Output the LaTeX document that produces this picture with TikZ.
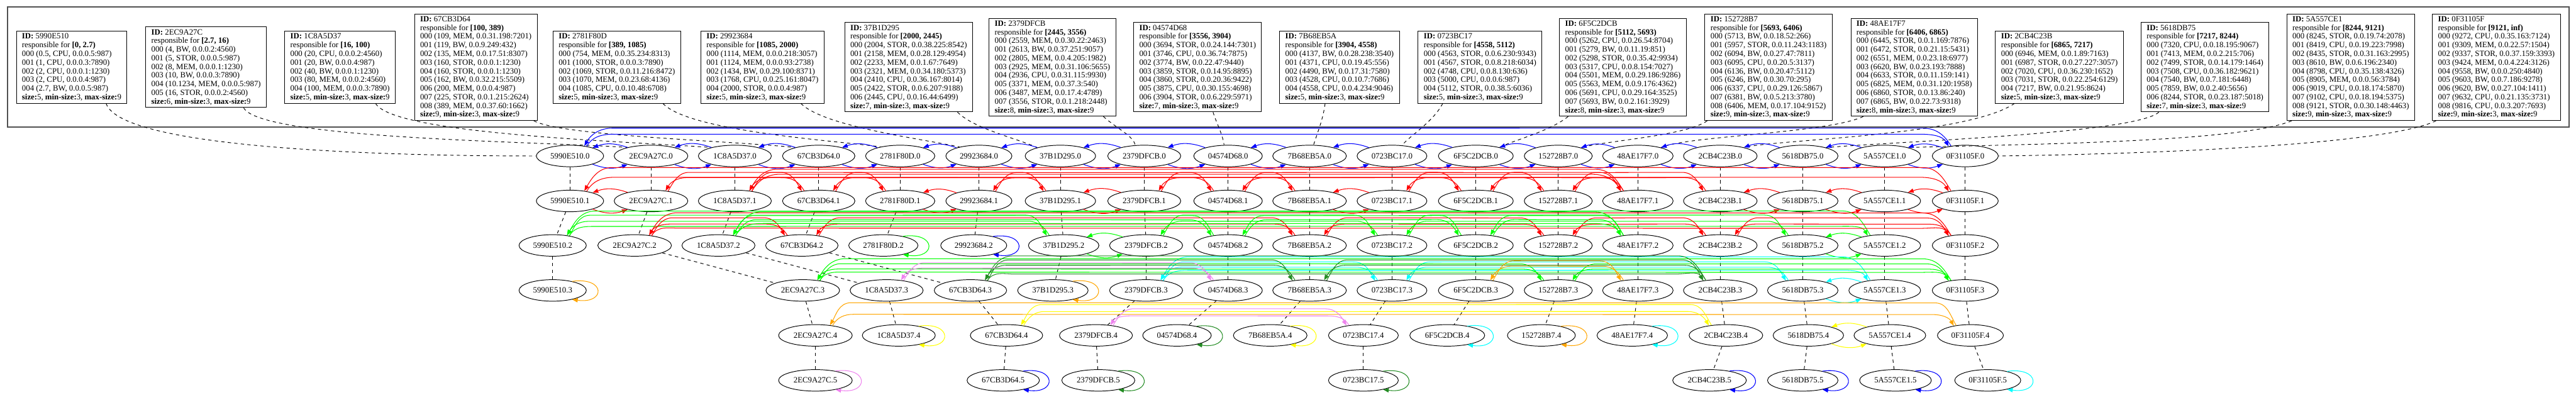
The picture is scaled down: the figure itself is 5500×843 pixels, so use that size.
\documentclass[tikz,border=0pt]{standalone}
\usepackage{fontspec}
\setmainfont{Liberation Serif}
\usetikzlibrary{arrows.meta,calc,shapes.geometric}
\definecolor{cblue}{RGB}{0,0,255}
\definecolor{cred}{RGB}{255,0,0}
\definecolor{cgreen}{RGB}{0,255,0}
\definecolor{cdkgreen}{RGB}{34,139,34}
\definecolor{ccyan}{RGB}{0,255,255}
\definecolor{corange}{RGB}{255,165,0}
\definecolor{cyellow}{RGB}{255,255,0}
\definecolor{cviolet}{RGB}{238,130,238}
\definecolor{framecol}{RGB}{80,80,80}
\tikzset{
  el/.style={draw,ellipse,line width=1.3pt,inner xsep=9pt,inner ysep=0pt,minimum height=46pt,font=\fontsize{17.2}{20}\selectfont},
  infobox/.style={draw,line width=1.3pt,align=left,inner xsep=12pt,inner ysep=5pt,font=\fontsize{17.2}{18.5}\selectfont},
  vd/.style={dash pattern=on 7pt off 7pt,line width=1.3pt},
  bd/.style={dash pattern=on 7pt off 7pt,line width=1.3pt},
  lk/.style={draw=#1,line width=1.4pt,-{Triangle[length=12pt,width=9pt]}}
}
\newcommand\infotext[4]{\textbf{ID:} #1\\responsible for \textbf{[#2)}\\#3\textbf{size:}#4, \textbf{min-size:}3, \textbf{max-size:}9}
\newcommand\lngR[5]{%
  \path (#3) ++(-#5,#4) coordinate (tq);
  \draw[lk=#1] (#2) to[out=60,in=180] ++(#5,#4) -- (tq) to[out=0,in=120] (#3);}
\newcommand\lngL[5]{%
  \path (#3) ++(#5,#4) coordinate (tq);
  \draw[lk=#1] (#2) to[out=120,in=0] ++(-#5,#4) -- (tq) to[out=180,in=60] (#3);}
\newcommand\longpair[5]{\lngR{#1}{#2.30}{#3.150}{#4}{45}\lngL{#1}{#3.145}{#2.35}{#5}{45}}
\newcommand\shortpair[3]{\draw[lk=#1] (#3.160) to[bend right=20] (#2.20);
  \draw[lk=#1] (#2.340) to[bend right=20] (#3.200);}
\newcommand\selfloop[2]{\draw[lk=#1] (#2.25) .. controls +(72,10) and +(72,-10) .. (#2.335);}
\begin{document}
\begin{tikzpicture}[x=1pt,y=1pt]
\useasboundingbox (0,0) rectangle (5500,-843);
\draw[framecol,line width=2pt] (16,-15) rectangle (5485,-271);

% ---------- info boxes ----------
\node[infobox] (ba) at (153,-143.5) {\infotext{5990E510}{0, 2.7}{000 (0.5, CPU, 0.0.0.5:987)\\001 (1, CPU, 0.0.0.3:7890)\\002 (2, CPU, 0.0.0.1:1230)\\003 (2, CPU, 0.0.0.4:987)\\004 (2.7, BW, 0.0.0.5:987)\\}{5}};
\node[infobox] (bb) at (440,-143.5) {\infotext{2EC9A27C}{2.7, 16}{000 (4, BW, 0.0.0.2:4560)\\001 (5, STOR, 0.0.0.5:987)\\002 (8, MEM, 0.0.0.1:1230)\\003 (10, BW, 0.0.0.3:7890)\\004 (10.1234, MEM, 0.0.0.5:987)\\005 (16, STOR, 0.0.0.2:4560)\\}{6}};
\node[infobox] (bc) at (726,-143.5) {\infotext{1C8A5D37}{16, 100}{000 (20, CPU, 0.0.0.2:4560)\\001 (20, BW, 0.0.0.4:987)\\002 (40, BW, 0.0.0.1:1230)\\003 (80, MEM, 0.0.0.2:4560)\\004 (100, MEM, 0.0.0.3:7890)\\}{5}};
\node[infobox] (bd) at (1016,-143.5) {\infotext{67CB3D64}{100, 389}{000 (109, MEM, 0.0.31.198:7201)\\001 (119, BW, 0.0.9.249:432)\\002 (135, MEM, 0.0.17.51:8307)\\003 (160, STOR, 0.0.0.1:1230)\\004 (160, STOR, 0.0.0.1:1230)\\005 (162, BW, 0.0.32.215:5509)\\006 (200, MEM, 0.0.0.4:987)\\007 (225, STOR, 0.0.1.215:2624)\\008 (389, MEM, 0.0.37.60:1662)\\}{9}};
\node[infobox] (be) at (1317,-143.5) {\infotext{2781F80D}{389, 1085}{000 (754, MEM, 0.0.35.234:8313)\\001 (1000, STOR, 0.0.0.3:7890)\\002 (1069, STOR, 0.0.11.216:8472)\\003 (1070, MEM, 0.0.23.68:4136)\\004 (1085, CPU, 0.0.10.48:6708)\\}{5}};
\node[infobox] (bf) at (1628,-143.5) {\infotext{29923684}{1085, 2000}{000 (1114, MEM, 0.0.0.218:3057)\\001 (1124, MEM, 0.0.0.93:2738)\\002 (1434, BW, 0.0.29.100:8371)\\003 (1768, CPU, 0.0.25.161:8047)\\004 (2000, STOR, 0.0.0.4:987)\\}{5}};
\node[infobox] (bg) at (1940,-143.5) {\infotext{37B1D295}{2000, 2445}{000 (2004, STOR, 0.0.38.225:8542)\\001 (2158, MEM, 0.0.28.129:4954)\\002 (2233, MEM, 0.0.1.67:7649)\\003 (2321, MEM, 0.0.34.180:5373)\\004 (2410, CPU, 0.0.36.167:8014)\\005 (2422, STOR, 0.0.6.207:9188)\\006 (2445, CPU, 0.0.16.44:6499)\\}{7}};
\node[infobox] (bh) at (2247,-143.5) {\infotext{2379DFCB}{2445, 3556}{000 (2559, MEM, 0.0.30.22:2463)\\001 (2613, BW, 0.0.37.251:9057)\\002 (2805, MEM, 0.0.4.205:1982)\\003 (2925, MEM, 0.0.31.106:5655)\\004 (2936, CPU, 0.0.31.115:9930)\\005 (3371, MEM, 0.0.37.3:540)\\006 (3487, MEM, 0.0.17.4:4789)\\007 (3556, STOR, 0.0.1.218:2448)\\}{8}};
\node[infobox] (bi) at (2557,-143.5) {\infotext{04574D68}{3556, 3904}{000 (3694, STOR, 0.0.24.144:7301)\\001 (3746, CPU, 0.0.36.74:7875)\\002 (3774, BW, 0.0.22.47:9440)\\003 (3859, STOR, 0.0.14.95:8895)\\004 (3860, STOR, 0.0.20.36:9422)\\005 (3875, CPU, 0.0.30.155:4698)\\006 (3904, STOR, 0.0.6.229:5971)\\}{7}};
\node[infobox] (bj) at (2860,-143.5) {\infotext{7B68EB5A}{3904, 4558}{000 (4137, BW, 0.0.28.238:3540)\\001 (4371, CPU, 0.0.19.45:556)\\002 (4490, BW, 0.0.17.31:7580)\\003 (4528, CPU, 0.0.10.7:7686)\\004 (4558, CPU, 0.0.4.234:9046)\\}{5}};
\node[infobox] (bk) at (3160,-143.5) {\infotext{0723BC17}{4558, 5112}{000 (4563, STOR, 0.0.6.230:9343)\\001 (4567, STOR, 0.0.8.218:6034)\\002 (4748, CPU, 0.0.8.130:636)\\003 (5000, CPU, 0.0.0.6:987)\\004 (5112, STOR, 0.0.38.5:6036)\\}{5}};
\node[infobox] (bl) at (3465,-143.5) {\infotext{6F5C2DCB}{5112, 5693}{000 (5262, CPU, 0.0.26.54:8704)\\001 (5279, BW, 0.0.11.19:851)\\002 (5298, STOR, 0.0.35.42:9934)\\003 (5317, CPU, 0.0.8.154:7027)\\004 (5501, MEM, 0.0.29.186:9286)\\005 (5563, MEM, 0.0.9.176:4362)\\006 (5691, CPU, 0.0.29.164:3525)\\007 (5693, BW, 0.0.2.161:3929)\\}{8}};
\node[infobox] (bm) at (3776,-143.5) {\infotext{152728B7}{5693, 6406}{000 (5713, BW, 0.0.18.52:266)\\001 (5957, STOR, 0.0.11.243:1183)\\002 (6094, BW, 0.0.27.47:7811)\\003 (6095, CPU, 0.0.20.5:3137)\\004 (6136, BW, 0.0.20.47:5112)\\005 (6246, BW, 0.0.30.70:295)\\006 (6337, CPU, 0.0.29.126:5867)\\007 (6381, BW, 0.0.5.213:3780)\\008 (6406, MEM, 0.0.17.104:9152)\\}{9}};
\node[infobox] (bn) at (4087,-143.5) {\infotext{48AE17F7}{6406, 6865}{000 (6445, STOR, 0.0.1.169:7876)\\001 (6472, STOR, 0.0.21.15:5431)\\002 (6551, MEM, 0.0.23.18:6977)\\003 (6620, BW, 0.0.23.193:7888)\\004 (6633, STOR, 0.0.11.159:141)\\005 (6825, MEM, 0.0.31.120:1958)\\006 (6860, STOR, 0.0.13.86:240)\\007 (6865, BW, 0.0.22.73:9318)\\}{8}};
\node[infobox] (bo) at (4397,-143.5) {\infotext{2CB4C23B}{6865, 7217}{000 (6946, MEM, 0.0.1.89:7163)\\001 (6987, STOR, 0.0.27.227:3057)\\002 (7020, CPU, 0.0.36.230:1652)\\003 (7031, STOR, 0.0.22.254:6129)\\004 (7217, BW, 0.0.21.95:8624)\\}{5}};
\node[infobox] (bp) at (4708,-143.5) {\infotext{5618DB75}{7217, 8244}{000 (7320, CPU, 0.0.18.195:9067)\\001 (7413, MEM, 0.0.2.215:706)\\002 (7499, STOR, 0.0.14.179:1464)\\003 (7508, CPU, 0.0.36.182:9621)\\004 (7540, BW, 0.0.7.181:6448)\\005 (7859, BW, 0.0.2.40:5656)\\006 (8244, STOR, 0.0.23.187:5018)\\}{7}};
\node[infobox] (bq) at (5019,-143.5) {\infotext{5A557CE1}{8244, 9121}{000 (8245, STOR, 0.0.19.74:2078)\\001 (8419, CPU, 0.0.19.223:7998)\\002 (8435, STOR, 0.0.31.163:2995)\\003 (8610, BW, 0.0.6.196:2340)\\004 (8798, CPU, 0.0.35.138:4326)\\005 (8905, MEM, 0.0.0.56:3784)\\006 (9019, CPU, 0.0.18.174:5870)\\007 (9102, CPU, 0.0.18.194:5375)\\008 (9121, STOR, 0.0.30.148:4463)\\}{9}};
\node[infobox] (br) at (5330,-143.5) {\infotext{0F31105F}{9121, inf}{000 (9272, CPU, 0.0.35.163:7124)\\001 (9309, MEM, 0.0.22.57:1504)\\002 (9337, STOR, 0.0.37.159:3393)\\003 (9424, MEM, 0.0.4.224:3126)\\004 (9558, BW, 0.0.0.250:4840)\\005 (9603, BW, 0.0.7.186:9278)\\006 (9620, BW, 0.0.27.104:1411)\\007 (9632, CPU, 0.0.21.135:3731)\\008 (9816, CPU, 0.0.3.207:7693)\\}{9}};

% ---------- ellipse nodes ----------
\foreach \nm/\id/\x in {a/5990E510/1217,b/2EC9A27C/1390,c/1C8A5D37/1569,d/67CB3D64/1748,e/2781F80D/1922,f/29923684/2090,g/37B1D295/2264,h/2379DFCB/2443,i/04574D68/2622,j/7B68EB5A/2796,k/0723BC17/2972,l/6F5C2DCB/3151,m/152728B7/3327,n/48AE17F7/3497,o/2CB4C23B/3673,p/5618DB75/3849,q/5A557CE1/4024,r/0F31105F/4196}{
  \node[el] (\nm0) at (\x,-333) {\id.0};
  \node[el] (\nm1) at (\x,-429) {\id.1};}
\foreach \nm/\id/\x in {a/5990E510/1180,b/2EC9A27C/1355,c/1C8A5D37/1534,d/67CB3D64/1712,e/2781F80D/1886,f/29923684/2079,g/37B1D295/2271,h/2379DFCB/2447,i/04574D68/2622,j/7B68EB5A/2796,k/0723BC17/2972,l/6F5C2DCB/3151,m/152728B7/3327,n/48AE17F7/3497,o/2CB4C23B/3673,p/5618DB75/3849,q/5A557CE1/4024,r/0F31105F/4196}{
  \node[el] (\nm2) at (\x,-524) {\id.2};}
\foreach \nm/\id/\x in {a/5990E510/1180,b/2EC9A27C/1714,c/1C8A5D37/1893,d/67CB3D64/2072,g/37B1D295/2248,h/2379DFCB/2447,i/04574D68/2622,j/7B68EB5A/2796,k/0723BC17/2972,l/6F5C2DCB/3151,m/152728B7/3327,n/48AE17F7/3497,o/2CB4C23B/3673,p/5618DB75/3849,q/5A557CE1/4024,r/0F31105F/4196}{
  \node[el] (\nm3) at (\x,-620) {\id.3};}
\foreach \nm/\id/\x in {b/2EC9A27C/1741,c/1C8A5D37/1919,d/67CB3D64/2149,h/2379DFCB/2340,i/04574D68/2513,j/7B68EB5A/2712,k/0723BC17/2911,l/6F5C2DCB/3090,m/152728B7/3291,n/48AE17F7/3485,o/2CB4C23B/3685,p/5618DB75/3861,q/5A557CE1/4035,r/0F31105F/4207}{
  \node[el] (\nm4) at (\x,-716) {\id.4};}
\foreach \nm/\id/\x in {b/2EC9A27C/1741,d/67CB3D64/2142,h/2379DFCB/2345,k/0723BC17/2911,o/2CB4C23B/3650,p/5618DB75/3849,q/5A557CE1/4047,r/0F31105F/4244}{
  \node[el] (\nm5) at (\x,-812) {\id.5};}

% ---------- vertical dashed links ----------
\foreach \nm/\top in {a/3,b/5,c/4,d/5,e/2,f/2,g/3,h/5,i/4,j/4,k/5,l/4,m/4,n/4,o/5,p/5,q/5,r/5}{
  \foreach \k in {1,...,\top}{\pgfmathtruncatemacro\km{\k-1}\draw[vd] (\nm\km) -- (\nm\k);}}

% ---------- box to node dashed links ----------
\draw[bd] ($(ba.south west)!0.81!(ba.south east)$) .. controls (260,-320) and (850,-333) .. (a0.west);
\draw[bd] ($(bb.south west)!0.81!(bb.south east)$) .. controls (555,-297) and (1150,-302) .. (b0.160);
\draw[bd] ($(bc.south west)!0.82!(bc.south east)$) .. controls (840,-285) and (1300,-300) .. (c0.160);
\draw[bd] ($(bd.south west)!0.97!(bd.south east)$) .. controls (1200,-290) and (1550,-300) .. (d0.160);
\draw[bd] ($(be.south west)!0.86!(be.south east)$) .. controls (1470,-280) and (1780,-300) .. (e0.155);
\draw[bd] ($(bf.south west)!0.81!(bf.south east)$) .. controls (1760,-270) and (1960,-295) .. (f0.155);
\draw[bd] ($(bg.south west)!0.88!(bg.south east)$) .. controls (2080,-275) and (2170,-295) .. (g0.160);
\draw[bd] ($(bh.south west)!0.90!(bh.south east)$) .. controls (2385,-275) and (2420,-290) .. (h0.130);
\draw[bd] ($(bi.south west)!0.62!(bi.south east)$) .. controls (2598,-265) and (2610,-285) .. (i0.110);
\draw[bd] ($(bj.south west)!0.38!(bj.south east)$) .. controls (2825,-255) and (2812,-285) .. (j0.70);
\draw[bd] ($(bk.south west)!0.20!(bk.south east)$) .. controls (3060,-260) and (3010,-290) .. (k0.47);
\draw[bd] ($(bl.south west)!0.07!(bl.south east)$) .. controls (3310,-280) and (3230,-300) .. (l0.20);
\draw[bd] ($(bm.south west)!0.02!(bm.south east)$) .. controls (3600,-290) and (3430,-300) .. (m0.20);
\draw[bd] ($(bn.south west)!0.10!(bn.south east)$) .. controls (3900,-285) and (3600,-290) .. (n0.20);
\draw[bd] ($(bo.south west)!0.15!(bo.south east)$) .. controls (4200,-290) and (3790,-298) .. (o0.20);
\draw[bd] ($(bp.south west)!0.14!(bp.south east)$) .. controls (4560,-285) and (4050,-302) .. (p0.20);
\draw[bd] ($(bq.south west)!0.04!(bq.south east)$) .. controls (4780,-305) and (4300,-308) .. (q0.20);
\draw[bd] ($(br.south west)!0.03!(br.south east)$) .. controls (5080,-315) and (4500,-330) .. (r0.east);

% ---------- level 0 (blue) ----------
\foreach \u/\v in {a/b,b/c,c/d,d/e,e/f,f/g,g/h,h/i,i/j,j/k,k/l,l/m,m/n,n/o,o/p,p/q,q/r}{\shortpair{cblue}{\u0}{\v0}}
\lngR{cblue}{a0.30}{r0.150}{26}{60}
\lngL{cblue}{r0.145}{a0.35}{38}{60}

% ---------- level 1 (red) ----------
\foreach \u/\v in {a/b,g/h,j/k,o/p,p/q,q/r,e/f}{\shortpair{cred}{\u1}{\v1}}
\foreach \u/\v in {b/d,d/g,h/j,k/m,m/o,c/e,f/i,i/l,l/n}{\longpair{cred}{\u1}{\v1}{40}{28}}
\lngR{cred}{a1.30}{r1.150}{30}{60}
\lngL{cred}{r1.145}{a1.35}{50}{60}
\lngR{cred}{c1.30}{n1.150}{36}{60}
\lngL{cred}{n1.145}{c1.35}{46}{60}

% ---------- level 2 ----------
\foreach \u/\v in {g/h,p/q}{\shortpair{cgreen}{\u2}{\v2}}
\foreach \u/\v in {a/g,h/k,k/p}{\longpair{cgreen}{\u2}{\v2}{44}{30}}
\lngR{cgreen}{a2.30}{q2.150}{20}{60}
\lngL{cgreen}{q2.145}{a2.35}{52}{60}
\foreach \u/\v in {b/d,d/j,j/m,m/o,o/r}{\longpair{cred}{\u2}{\v2}{38}{24}}
\lngR{cred}{b2.30}{r2.150}{16}{60}
\lngL{cred}{r2.145}{b2.35}{48}{60}
\foreach \u/\v in {c/i,i/l,l/n}{\longpair{cgreen}{\u2}{\v2}{34}{42}}
\lngR{cgreen}{c2.30}{n2.150}{26}{60}
\lngL{cgreen}{n2.145}{c2.35}{50}{60}
\selfloop{cgreen}{e2}
\selfloop{cblue}{f2}

% ---------- level 3 ----------
\foreach \u/\v in {h/k,k/p}{\longpair{ccyan}{\u3}{\v3}{40}{28}}
\shortpair{ccyan}{p3}{q3}
\lngR{ccyan}{h3.30}{q3.150}{22}{60}
\lngL{ccyan}{q3.145}{h3.35}{50}{60}
\foreach \u/\v in {b/m,m/r}{\longpair{cgreen}{\u3}{\v3}{36}{24}}
\lngR{cgreen}{b3.30}{r3.150}{18}{60}
\lngL{cgreen}{r3.145}{b3.35}{46}{60}
\foreach \u/\v in {d/j,j/o}{\longpair{cdkgreen}{\u3}{\v3}{44}{32}}
\lngR{cdkgreen}{d3.30}{o3.150}{14}{60}
\lngL{cdkgreen}{o3.145}{d3.35}{52}{60}
\longpair{cviolet}{c3}{i3}{38}{26}
\longpair{corange}{l3}{n3}{42}{30}
\selfloop{corange}{a3}
\selfloop{corange}{g3}

% ---------- level 4 ----------
\longpair{corange}{b4}{r4}{24}{48}
\longpair{cyellow}{d4}{o4}{30}{44}
\longpair{cviolet}{h4}{k4}{36}{20}
\shortpair{cyellow}{p4}{q4}
\selfloop{cyellow}{c4}
\selfloop{cdkgreen}{i4}
\selfloop{cyellow}{j4}
\selfloop{ccyan}{l4}
\selfloop{corange}{m4}
\selfloop{ccyan}{n4}

% ---------- level 5 ----------
\selfloop{cviolet}{b5}
\selfloop{cblue}{d5}
\selfloop{cdkgreen}{h5}
\selfloop{cdkgreen}{k5}
\selfloop{cblue}{o5}
\selfloop{cblue}{p5}
\selfloop{cblue}{q5}
\selfloop{ccyan}{r5}
\end{tikzpicture}
\end{document}
